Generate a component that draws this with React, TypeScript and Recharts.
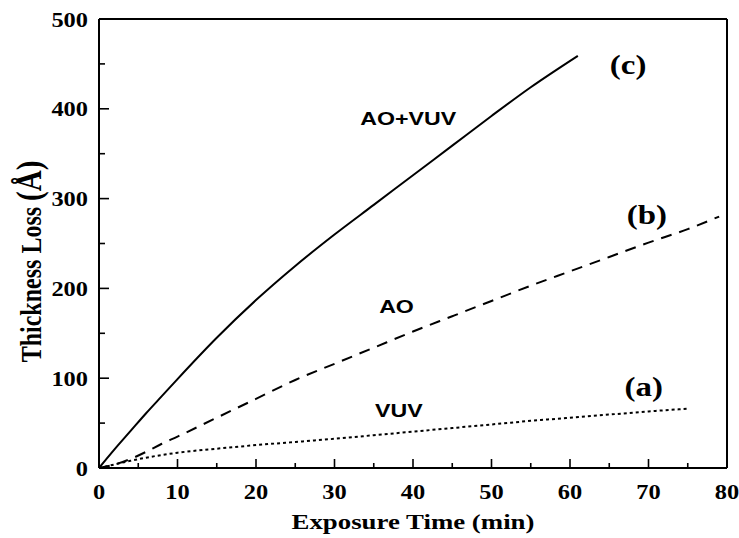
import React from 'react';
import { LineChart, Line, XAxis, YAxis, ReferenceDot, Label } from 'recharts';

// (c) AO+VUV, solid
const aoVuvTime = [0, 2, 4, 6, 8, 10, 15, 20, 25, 30, 35, 40, 45, 50, 55, 61];
const aoVuvLoss = [0, 21, 41, 61, 80, 99, 145, 187, 225, 260, 293, 326, 359, 392, 424, 459];

// (b) AO, dashed
const aoTime = [0, 2, 4, 6, 8, 10, 15, 20, 25, 30, 35, 40, 45, 50, 55, 60, 65, 70, 75, 79];
const aoLoss = [0, 4, 10, 18, 27, 35, 56, 77, 98, 116, 134, 152, 169, 186, 203, 219, 235, 251, 266, 280];

// (a) VUV, dotted
const vuvTime = [0, 2, 4, 6, 8, 10, 15, 20, 25, 30, 35, 40, 45, 50, 55, 60, 65, 70, 75];
const vuvLoss = [0, 4, 8, 11.5, 14.5, 17, 21.5, 25.5, 29, 32.5, 36.5, 40.5, 44.5, 48.5, 52.5, 56, 59.5, 63, 66];

const xTicks = [0, 5, 10, 15, 20, 25, 30, 35, 40, 45, 50, 55, 60, 65, 70, 75, 80];
const yTicks = [0, 50, 100, 150, 200, 250, 300, 350, 400, 450, 500];

const annotationText = ['AO+VUV', 'AO', 'VUV', '(c)', '(b)', '(a)'];
const annotationX = [39.4, 37.9, 38.2, 67.4, 69.8, 69.4];
const annotationY = [382, 172.6, 56.8, 438.8, 271.7, 80.2];
const annotationKind = ['sans', 'sans', 'sans', 'serif', 'serif', 'serif'];

const toData = (xs: number[], ys: number[]) => xs.map((t, i) => ({ t, v: ys[i] }));
const aoVuvData = toData(aoVuvTime, aoVuvLoss);
const aoData = toData(aoTime, aoLoss);
const vuvData = toData(vuvTime, vuvLoss);

const SERIF = '"Liberation Serif", "Times New Roman", serif';
const SANS = '"Liberation Sans", Arial, sans-serif';
const STRETCH = 1.22;

const BottomTick = (props: any) => {
  const { x, y, payload } = props;
  const v = payload.value;
  const major = v % 10 === 0;
  return (
    <g>
      <line x1={x} x2={x} y1={y} y2={y - (major ? 9 : 5)} stroke="#000" strokeWidth={1.6} />
      {major && (
        <text
          transform={`translate(${x},${y + 31}) scale(${STRETCH},1)`}
          textAnchor="middle"
          fontFamily={SERIF}
          fontWeight="bold"
          fontSize={20}
          fill="#000"
        >
          {v}
        </text>
      )}
    </g>
  );
};

const TopTick = (props: any) => {
  const { x, y, payload } = props;
  const major = payload.value % 10 === 0;
  return <line x1={x} x2={x} y1={y} y2={y + (major ? 9 : 5)} stroke="#000" strokeWidth={1.6} />;
};

const LeftTick = (props: any) => {
  const { x, y, payload } = props;
  const v = payload.value;
  const major = v % 100 === 0;
  return (
    <g>
      <line x1={x} x2={x + (major ? 10 : 6)} y1={y} y2={y} stroke="#000" strokeWidth={1.6} />
      {major && (
        <text
          transform={`translate(${x - 11},${y + 7.5}) scale(${STRETCH},1)`}
          textAnchor="end"
          fontFamily={SERIF}
          fontWeight="bold"
          fontSize={20}
          fill="#000"
        >
          {v}
        </text>
      )}
    </g>
  );
};

const RightTick = (props: any) => {
  const { x, y, payload } = props;
  const major = payload.value % 100 === 0;
  return <line x1={x} x2={x - (major ? 10 : 6)} y1={y} y2={y} stroke="#000" strokeWidth={1.6} />;
};

const XTitle = (props: any) => {
  const vb = props.viewBox;
  const cx = vb.x + vb.width / 2;
  return (
    <text
      transform={`translate(${cx},${vb.y + 61}) scale(${STRETCH},1)`}
      textAnchor="middle"
      fontFamily={SERIF}
      fontWeight="bold"
      fontSize={22}
      fill="#000"
    >
      Exposure Time (min)
    </text>
  );
};

const YTitle = (props: any) => {
  const vb = props.viewBox;
  const cy = vb.y + vb.height / 2 + 18;
  return (
    <text
      transform={`translate(41,${cy}) rotate(-90) scale(1,${STRETCH})`}
      textAnchor="middle"
      fontFamily={SERIF}
      fontWeight="bold"
      fontSize={24}
      fill="#000"
    >
      Thickness Loss <tspan fontSize={29}>(Å)</tspan>
    </text>
  );
};

const makeAnnotation = (label: string, kind: string) => (props: any) => {
  const { cx, cy } = props;
  const serif = kind === 'serif';
  return (
    <text
      transform={`translate(${cx},${cy}) scale(${STRETCH},1)`}
      textAnchor="middle"
      fontFamily={serif ? SERIF : SANS}
      fontWeight="bold"
      fontSize={serif ? 27 : 19}
      fill="#000"
    >
      {label}
    </text>
  );
};

export default function App() {
  return (
    <div style={{ position: 'absolute', left: 0, top: 0, background: '#fff' }}>
      <LineChart width={739} height={538} margin={{ top: 0, right: 0, bottom: 0, left: 0 }}>
        <XAxis
          xAxisId="bottom"
          dataKey="t"
          type="number"
          domain={[0, 80]}
          ticks={xTicks}
          interval={0}
          orientation="bottom"
          height={70}
          tickSize={0}
          tickMargin={0}
          tickLine={false}
          axisLine={{ stroke: '#000', strokeWidth: 2 }}
          tick={BottomTick}
        >
          <Label content={XTitle} />
        </XAxis>
        <XAxis
          xAxisId="top"
          dataKey="t"
          type="number"
          domain={[0, 80]}
          ticks={xTicks}
          interval={0}
          orientation="top"
          height={19}
          tickSize={0}
          tickMargin={0}
          tickLine={false}
          axisLine={{ stroke: '#000', strokeWidth: 2 }}
          tick={TopTick}
        />
        <YAxis
          yAxisId="left"
          type="number"
          domain={[0, 500]}
          ticks={yTicks}
          interval={0}
          orientation="left"
          width={99}
          tickSize={0}
          tickMargin={0}
          tickLine={false}
          axisLine={{ stroke: '#000', strokeWidth: 2 }}
          tick={LeftTick}
        >
          <Label content={YTitle} />
        </YAxis>
        <YAxis
          yAxisId="right"
          type="number"
          domain={[0, 500]}
          ticks={yTicks}
          interval={0}
          orientation="right"
          width={12}
          tickSize={0}
          tickMargin={0}
          tickLine={false}
          axisLine={{ stroke: '#000', strokeWidth: 2 }}
          tick={RightTick}
        />
        <Line
          xAxisId="bottom"
          yAxisId="left"
          data={aoVuvData}
          dataKey="v"
          type="monotone"
          stroke="#000"
          strokeWidth={2}
          dot={false}
          isAnimationActive={false}
        />
        <Line
          xAxisId="bottom"
          yAxisId="left"
          data={aoData}
          dataKey="v"
          type="monotone"
          stroke="#000"
          strokeWidth={2}
          strokeDasharray="11 8"
          dot={false}
          isAnimationActive={false}
        />
        <Line
          xAxisId="bottom"
          yAxisId="left"
          data={vuvData}
          dataKey="v"
          type="monotone"
          stroke="#000"
          strokeWidth={2}
          strokeDasharray="3 3"
          dot={false}
          isAnimationActive={false}
        />
        {annotationText.map((label, i) => (
          <ReferenceDot
            key={label}
            xAxisId="bottom"
            yAxisId="left"
            x={annotationX[i]}
            y={annotationY[i]}
            r={0}
            ifOverflow="visible"
            shape={makeAnnotation(label, annotationKind[i])}
          />
        ))}
      </LineChart>
    </div>
  );
}
